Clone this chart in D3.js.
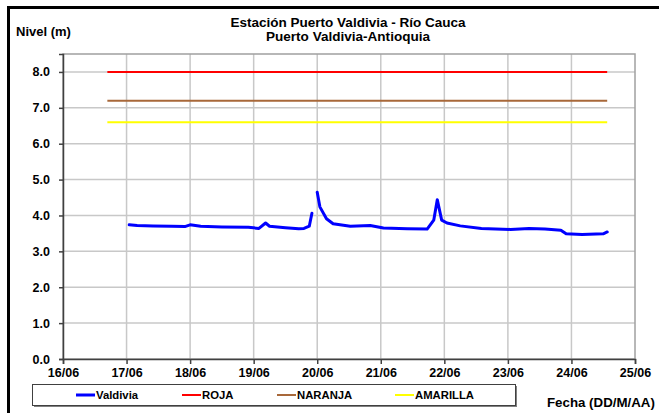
<!DOCTYPE html>
<html>
<head>
<meta charset="utf-8">
<script src="https://cdn.jsdelivr.net/npm/d3@7"></script>
<style>
  body { margin: 0; background: #fff; }
  text { font-family: "Liberation Sans", Arial, sans-serif; font-weight: bold; fill: #000; }
</style>
</head>
<body>
<div id="chart"></div>
<script>
// ---- data ----
var days = ["16/06","17/06","18/06","19/06","20/06","21/06","22/06","23/06","24/06","25/06"];
var yTicks = [0,1,2,3,4,5,6,7,8];
// Valdivia level readings (null = gap in the record)
var valdiviaTimes = [
  "17/06 01:00","17/06 04:00","17/06 10:00","17/06 17:00","17/06 22:00",
  "18/06 00:00","18/06 04:00","18/06 12:00","18/06 22:00",
  "19/06 02:00","19/06 04:30","19/06 06:00","19/06 12:00","19/06 17:00","19/06 19:00","19/06 21:00","19/06 22:00",
  "19/06 23:00",
  "20/06 00:00","20/06 01:00","20/06 03:30","20/06 06:00","20/06 12:30","20/06 20:00",
  "21/06 01:00","21/06 10:00","21/06 17:30","21/06 20:00","21/06 21:20","21/06 23:00",
  "22/06 01:00","22/06 06:00","22/06 14:00",
  "23/06 01:00","23/06 08:00","23/06 14:00","23/06 20:00","23/06 22:00",
  "24/06 04:00","24/06 12:00","24/06 13:30"
];
var valdiviaLevels = [
  3.74,3.72,3.71,3.70,3.69,
  3.74,3.70,3.68,3.67,
  3.64,3.79,3.70,3.66,3.63,3.64,3.70,4.06,
  null,
  4.65,4.24,3.91,3.77,3.70,3.72,
  3.65,3.63,3.62,3.87,4.44,3.87,
  3.79,3.71,3.64,
  3.61,3.64,3.62,3.59,3.49,
  3.47,3.49,3.54
];
// alert thresholds
var alertNames = ["ROJA","NARANJA","AMARILLA"];
var alertLevels = [8.0, 7.2, 6.6];
var alertColors = ["#ff0000","#a8683a","#ffff00"];
var alertStart = "16/06 16:45";
var alertEnd = "24/06 13:30";

var parse = d3.timeParse("%d/%m %H:%M");

var W = 659, H = 413;
var margin = {top: 54, left: 63, right: 24, bottom: 54};
var width = W - margin.left - margin.right;
var height = H - margin.top - margin.bottom;

var svg = d3.select("#chart").append("svg").attr("width", W).attr("height", H);

// outer frame (runs off the right and bottom edges)
svg.append("rect")
  .attr("x", 8.5).attr("y", 7.5).attr("width", 700).attr("height", 500)
  .attr("fill", "none").attr("stroke", "#000").attr("stroke-width", 3);

// titles
svg.append("text").attr("x", 348).attr("y", 27).attr("text-anchor", "middle")
  .attr("font-size", "12px").attr("textLength", 235).attr("lengthAdjust", "spacingAndGlyphs")
  .text("Estación Puerto Valdivia - Río Cauca");
svg.append("text").attr("x", 348).attr("y", 40.5).attr("text-anchor", "middle")
  .attr("font-size", "12px").attr("textLength", 164).attr("lengthAdjust", "spacingAndGlyphs")
  .text("Puerto Valdivia-Antioquia");
svg.append("text").attr("x", 16).attr("y", 36).attr("font-size", "13px").text("Nivel (m)");

var x = d3.scaleTime().domain([parse("16/06 00:00"), parse("25/06 00:00")]).range([0, width]);
var y = d3.scaleLinear().domain([0, 8.5]).range([height, 0]);

var g = svg.append("g").attr("transform", "translate(" + margin.left + "," + margin.top + ")");

// gridlines
g.selectAll(".hgrid").data(yTicks.slice(1)).enter().append("line")
  .attr("x1", 0).attr("x2", width)
  .attr("y1", function(d) { return y(d); }).attr("y2", function(d) { return y(d); })
  .attr("stroke", "#c8c8c8").attr("stroke-width", 1.5);
g.selectAll(".vgrid").data(days.slice(1, -1)).enter().append("line")
  .attr("x1", function(d) { return x(parse(d + " 00:00")); })
  .attr("x2", function(d) { return x(parse(d + " 00:00")); })
  .attr("y1", 0).attr("y2", height)
  .attr("stroke", "#c8c8c8").attr("stroke-width", 1.5);

// plot frame
g.append("rect").attr("width", width).attr("height", height)
  .attr("fill", "none").attr("stroke", "#a0a0a0").attr("stroke-width", 1.5);

// axes
var xAxis = g.append("g").attr("transform", "translate(0," + height + ")")
  .call(d3.axisBottom(x)
    .tickValues(days.map(function(d) { return parse(d + " 00:00"); }))
    .tickFormat(d3.timeFormat("%d/%m")).tickSize(5).tickPadding(4));
xAxis.select(".domain").attr("stroke", "#404040").attr("stroke-width", 1.5);
xAxis.selectAll(".tick line").attr("stroke", "#404040").attr("stroke-width", 1.5);
xAxis.selectAll("text").attr("font-size", "12.5px").attr("font-family", "Liberation Sans, Arial, sans-serif").attr("font-weight", "bold");

var yAxis = g.append("g")
  .call(d3.axisLeft(y).tickValues(yTicks).tickFormat(d3.format(".1f")).tickSize(4).tickPadding(9));
yAxis.select(".domain").attr("stroke", "#404040").attr("stroke-width", 1.5);
yAxis.selectAll(".tick line").attr("stroke", "#404040").attr("stroke-width", 1.5);
yAxis.selectAll("text").attr("font-size", "12.5px").attr("font-family", "Liberation Sans, Arial, sans-serif").attr("font-weight", "bold");

// threshold lines
alertLevels.forEach(function(v, i) {
  g.append("line")
    .attr("x1", x(parse(alertStart))).attr("x2", x(parse(alertEnd)))
    .attr("y1", y(v)).attr("y2", y(v))
    .attr("stroke", alertColors[i]).attr("stroke-width", 2);
});

// Valdivia series
var valdivia = valdiviaTimes.map(function(t, i) { return {t: parse(t), v: valdiviaLevels[i]}; });
var line = d3.line()
  .defined(function(d) { return d.v !== null; })
  .x(function(d) { return x(d.t); })
  .y(function(d) { return y(d.v); });
g.append("path").datum(valdivia)
  .attr("d", line).attr("fill", "none")
  .attr("stroke", "#0000ff").attr("stroke-width", 3)
  .attr("stroke-linejoin", "round").attr("stroke-linecap", "round");

// x axis title
svg.append("text").attr("x", 547).attr("y", 407).attr("font-size", "13.3px").text("Fecha (DD/M/AA)");

// legend
var legend = svg.append("g");
legend.append("rect").attr("x", 34).attr("y", 386).attr("width", 483).attr("height", 21).attr("fill", "#808080");
legend.append("rect").attr("x", 32.5).attr("y", 384.5).attr("width", 483).attr("height", 21)
  .attr("fill", "#fff").attr("stroke", "#404040").attr("stroke-width", 1);
var legendNames = ["Valdivia"].concat(alertNames);
var legendColors = ["#0000ff"].concat(alertColors);
var legendX = [76, 182, 277, 395];
legendNames.forEach(function(n, i) {
  legend.append("line").attr("x1", legendX[i]).attr("x2", legendX[i] + 19)
    .attr("y1", 395).attr("y2", 395)
    .attr("stroke", legendColors[i]).attr("stroke-width", i === 0 ? 3 : 2);
  legend.append("text").attr("x", legendX[i] + 20).attr("y", 399)
    .attr("font-size", "11.3px").text(n);
});
</script>
</body>
</html>
